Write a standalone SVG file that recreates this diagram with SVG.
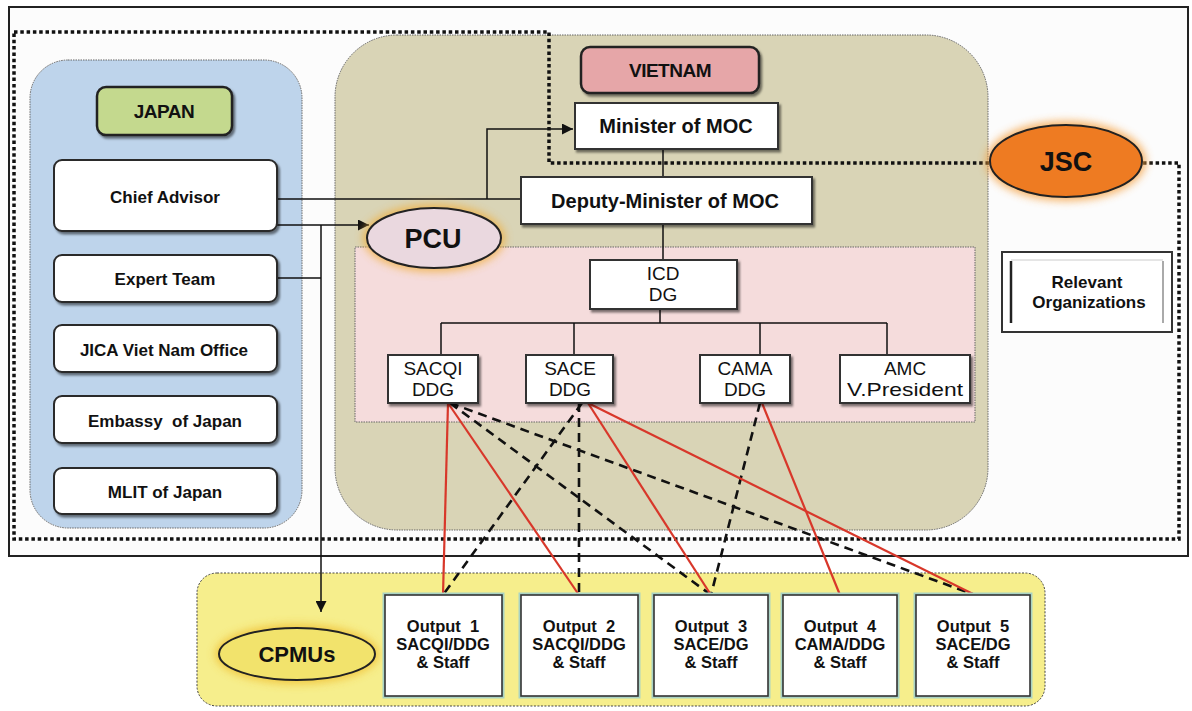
<svg xmlns="http://www.w3.org/2000/svg" width="1192" height="711" viewBox="0 0 1192 711">
<defs>
<style>
  text { font-family: "Liberation Sans", Arial, sans-serif; fill: #111; text-anchor: middle; }
  .b { font-weight: bold; }
  .jbox { fill: #fff; stroke: #2a2a2a; stroke-width: 2; filter: url(#sh); }
  .vbox { fill: #fff; stroke: #333; stroke-width: 2; filter: url(#sh); }
  .ln { fill: none; stroke: #111; stroke-width: 1.5; }
  .red { fill: none; stroke: #d8372a; stroke-width: 2.2; }
  .dash { fill: none; stroke: #111; stroke-width: 2.6; stroke-dasharray: 9 6; }
  .dot { fill: none; stroke: #111; stroke-width: 3.5; stroke-dasharray: 3.5 2.8; }
  .panel { stroke: #666; stroke-width: 1; stroke-dasharray: 1.5 1; }
  .out { fill: #fff; stroke: #333; stroke-width: 1.6; }
  .outrim { fill: none; stroke: #a9d3c4; stroke-width: 5; }
</style>
<filter id="sh" x="-10%" y="-15%" width="130%" height="150%">
  <feDropShadow dx="2" dy="2.5" stdDeviation="1.2" flood-color="#000" flood-opacity="0.5"/>
</filter>
<filter id="glow" x="-30%" y="-60%" width="160%" height="220%">
  <feGaussianBlur stdDeviation="4"/>
</filter>
<marker id="ar" viewBox="0 0 10 10" refX="10" refY="5" markerWidth="11" markerHeight="11" markerUnits="userSpaceOnUse" orient="auto">
  <path d="M0,0 L10,5 L0,10 z" fill="#111"/>
</marker>
</defs>

<rect x="0" y="0" width="1192" height="711" fill="#ffffff"/>

<!-- outer frame -->
<rect x="9" y="7" width="1179" height="549" fill="#fcfcfc" stroke="#222" stroke-width="2"/>

<!-- side panels -->
<rect id="japan-panel" class="panel" x="30" y="60" width="272" height="468" rx="38" fill="#bed4eb"/>
<rect id="vietnam-panel" class="panel" x="335" y="35" width="653" height="495" rx="62" fill="#d9d4b6"/>
<rect id="icd-area" class="panel" x="355" y="247" width="620" height="175" fill="#f5dcdc" stroke="#888"/>
<rect id="cpmu-panel" x="197" y="573" width="848" height="133" rx="20" fill="#f6ee8c" stroke="#444" stroke-width="1" stroke-dasharray="2 1.5"/>

<!-- JSC boundary -->
<path id="jsc-boundary" class="dot" d="M14,32 H549 V163 H1179 V539 H14 Z"/>

<!-- connectors -->
<g id="connectors">
  <path class="ln" d="M277,199 H521"/>
  <path class="ln" d="M487,199 V129 H573" marker-end="url(#ar)"/>
  <path class="ln" d="M277,225 H369" marker-end="url(#ar)"/>
  <path class="ln" d="M277,278 H321"/>
  <path class="ln" d="M321,225 V612" marker-end="url(#ar)"/>
  <path class="ln" d="M663,149 V177"/>
  <path class="ln" d="M663,224 V260"/>
  <path class="ln" d="M660,309 V323"/>
  <path class="ln" d="M441,323 H887"/>
  <path class="ln" d="M441,323 V355 M574,323 V355 M760,323 V355 M887,323 V355"/>

  <path class="dash" d="M450,403 L711,595"/>
  <path class="dash" d="M450,403 L975,595"/>
  <path class="dash" d="M582,403 L443,595"/>
  <path class="dash" d="M579,403 L579,595"/>
  <path class="dash" d="M760,403 L711,595"/>

  <path class="red" d="M448,403 L443,595"/>
  <path class="red" d="M448,403 L579,595"/>
  <path class="red" d="M588,403 L711,595"/>
  <path class="red" d="M588,403 L975,595"/>
  <path class="red" d="M762,403 L840,595"/>
</g>

<!-- Japan side -->
<g id="japan">
  <rect x="97" y="87" width="135" height="48" rx="9" fill="#c4d98e" stroke="#222" stroke-width="2.5" filter="url(#sh)"/>
  <text class="b" x="164" y="118" font-size="19" letter-spacing="-0.5">JAPAN</text>
</g>
<g id="chief-advisor">
  <rect class="jbox" x="54" y="160" width="223" height="71" rx="8"/>
  <text class="b" x="165" y="203" font-size="17">Chief Advisor</text>
</g>
<g id="expert-team">
  <rect class="jbox" x="54" y="255" width="223" height="47" rx="8"/>
  <text class="b" x="165" y="285" font-size="17">Expert Team</text>
</g>
<g id="jica-office">
  <rect class="jbox" x="54" y="325" width="223" height="47" rx="8"/>
  <text class="b" x="164" y="356" font-size="17">JICA Viet Nam Office</text>
</g>
<g id="embassy">
  <rect class="jbox" x="54" y="396" width="223" height="47" rx="8"/>
  <text class="b" x="165" y="427" font-size="17" xml:space="preserve">Embassy  of Japan</text>
</g>
<g id="mlit">
  <rect class="jbox" x="54" y="468" width="223" height="46" rx="8"/>
  <text class="b" x="165" y="498" font-size="17">MLIT of Japan</text>
</g>

<!-- Vietnam side -->
<g id="vietnam">
  <rect x="581" y="47" width="178" height="46" rx="9" fill="#e6a6a8" stroke="#222" stroke-width="2.5" filter="url(#sh)"/>
  <text class="b" x="670" y="77" font-size="19" letter-spacing="-0.5">VIETNAM</text>
</g>
<g id="minister">
  <rect class="vbox" x="575" y="103" width="203" height="46"/>
  <text class="b" x="676" y="133" font-size="20">Minister of MOC</text>
</g>
<g id="deputy-minister">
  <rect class="vbox" x="521" y="177" width="291" height="47"/>
  <text class="b" x="665" y="208" font-size="20">Deputy-Minister of MOC</text>
</g>
<g id="pcu">
  <ellipse cx="434" cy="238" rx="71" ry="34" fill="#f0b040" opacity="0.8" filter="url(#glow)"/>
  <ellipse cx="434" cy="238" rx="67" ry="30" fill="#ead8df" stroke="#222" stroke-width="2"/>
  <text class="b" x="433" y="248" font-size="27">PCU</text>
</g>
<g id="icd">
  <rect class="vbox" x="590" y="260" width="147" height="49"/>
  <text x="663" y="280" font-size="19">ICD</text>
  <text x="663" y="301" font-size="19">DG</text>
</g>
<g id="sacqi">
  <rect class="vbox" x="388" y="355" width="90" height="48"/>
  <text x="433" y="375" font-size="19">SACQI</text>
  <text x="433" y="396" font-size="19">DDG</text>
</g>
<g id="sace">
  <rect class="vbox" x="526" y="355" width="87" height="48"/>
  <text x="570" y="375" font-size="19">SACE</text>
  <text x="570" y="396" font-size="19">DDG</text>
</g>
<g id="cama">
  <rect class="vbox" x="700" y="355" width="90" height="48"/>
  <text x="745" y="375" font-size="19">CAMA</text>
  <text x="745" y="396" font-size="19">DDG</text>
</g>
<g id="amc">
  <rect class="vbox" x="840" y="355" width="130" height="48"/>
  <text x="905" y="375" font-size="19">AMC</text>
  <text x="905" y="396" font-size="19" textLength="116" lengthAdjust="spacingAndGlyphs">V.President</text>
</g>

<!-- JSC and relevant organizations -->
<g id="jsc">
  <ellipse cx="1066" cy="161" rx="80" ry="40" fill="#f5a040" opacity="0.8" filter="url(#glow)"/>
  <ellipse cx="1066" cy="161" rx="76" ry="36" fill="#ee7b22" stroke="#222" stroke-width="2"/>
  <text class="b" x="1066" y="171" font-size="27">JSC</text>
</g>
<g id="relevant-organizations">
  <rect x="1002" y="252" width="170" height="80" fill="#fff" stroke="#333" stroke-width="2"/>
  <line x1="1011" y1="260" x2="1163" y2="260" stroke="#ddd" stroke-width="1.5"/>
  <line x1="1011" y1="261" x2="1011" y2="323" stroke="#222" stroke-width="2.5"/>
  <line x1="1163" y1="261" x2="1163" y2="323" stroke="#aaa" stroke-width="2"/>
  <text class="b" x="1087" y="288" font-size="17">Relevant</text>
  <text class="b" x="1089" y="308" font-size="17">Organizations</text>
</g>

<!-- CPMUs and outputs -->
<g id="cpmus">
  <ellipse cx="297" cy="654" rx="82" ry="30" fill="#f0c030" opacity="0.8" filter="url(#glow)"/>
  <ellipse cx="297" cy="654" rx="78" ry="26" fill="#f2e36c" stroke="#222" stroke-width="2"/>
  <text class="b" x="297" y="662" font-size="22">CPMUs</text>
</g>
<g id="output-1">
  <rect class="outrim" x="385" y="595" width="117" height="101"/>
  <rect class="out" x="385" y="595" width="117" height="101"/>
  <text class="b" x="443" y="632" font-size="16.5" xml:space="preserve">Output  1</text>
  <text class="b" x="443" y="650" font-size="16.5">SACQI/DDG</text>
  <text class="b" x="443" y="668" font-size="16.5">&amp; Staff</text>
</g>
<g id="output-2">
  <rect class="outrim" x="521" y="595" width="117" height="101"/>
  <rect class="out" x="521" y="595" width="117" height="101"/>
  <text class="b" x="579" y="632" font-size="16.5" xml:space="preserve">Output  2</text>
  <text class="b" x="579" y="650" font-size="16.5">SACQI/DDG</text>
  <text class="b" x="579" y="668" font-size="16.5">&amp; Staff</text>
</g>
<g id="output-3">
  <rect class="outrim" x="654" y="595" width="114" height="101"/>
  <rect class="out" x="654" y="595" width="114" height="101"/>
  <text class="b" x="711" y="632" font-size="16.5" xml:space="preserve">Output  3</text>
  <text class="b" x="711" y="650" font-size="16.5">SACE/DG</text>
  <text class="b" x="711" y="668" font-size="16.5">&amp; Staff</text>
</g>
<g id="output-4">
  <rect class="outrim" x="783" y="595" width="114" height="101"/>
  <rect class="out" x="783" y="595" width="114" height="101"/>
  <text class="b" x="840" y="632" font-size="16.5" xml:space="preserve">Output  4</text>
  <text class="b" x="840" y="650" font-size="16.5">CAMA/DDG</text>
  <text class="b" x="840" y="668" font-size="16.5">&amp; Staff</text>
</g>
<g id="output-5">
  <rect class="outrim" x="916" y="595" width="114" height="101"/>
  <rect class="out" x="916" y="595" width="114" height="101"/>
  <text class="b" x="973" y="632" font-size="16.5" xml:space="preserve">Output  5</text>
  <text class="b" x="973" y="650" font-size="16.5">SACE/DG</text>
  <text class="b" x="973" y="668" font-size="16.5">&amp; Staff</text>
</g>
</svg>
